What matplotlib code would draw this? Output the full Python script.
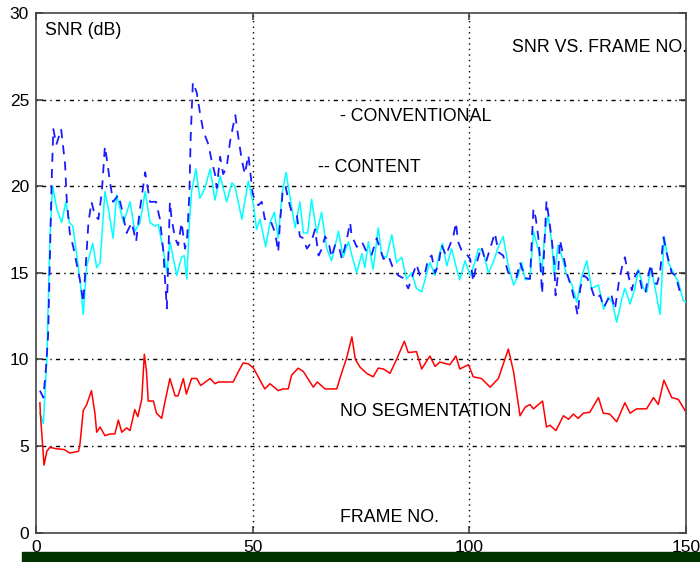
import numpy as np
import matplotlib
matplotlib.use("Agg")
import matplotlib.pyplot as plt
from matplotlib.patches import Rectangle

plt.rcParams['font.family'] = ['Liberation Sans', 'DejaVu Sans']

# (frame, SNR dB)
conventional = [
    (0.9, 6.9), (1.7, 6.3), (2.5, 10.0), (3.2, 17.0), (3.85, 20.0), (4.8, 18.7), (5.9, 17.9),
    (6.9, 19.1), (7.7, 17.9), (8.5, 17.7), (9.4, 16.0), (10.2, 14.5), (10.9, 12.6), (11.7, 15.4),
    (13.1, 16.7), (14.0, 15.3), (14.8, 15.6), (15.9, 19.7), (16.7, 18.7), (17.8, 17.0), (18.6, 19.5),
    (20.2, 17.9), (21.7, 19.1), (22.8, 17.4), (24.0, 17.9), (25.2, 19.7), (26.3, 17.9), (27.5, 17.7),
    (28.2, 17.8), (29.4, 16.3), (30.2, 15.0), (30.9, 16.8), (32.5, 14.85), (33.6, 15.9), (34.2, 16.0),
    (34.8, 14.65), (35.4, 17.9), (35.9, 19.7), (36.9, 21.0), (37.8, 19.3), (39.0, 19.9), (40.2, 21.0),
    (41.3, 19.2), (42.5, 20.6), (44.0, 19.1), (45.2, 20.2), (45.9, 20.0), (47.5, 18.1), (49.0, 20.3),
    (50.2, 18.9), (50.9, 17.5), (51.7, 18.1), (53.0, 16.5), (54.0, 17.9), (55.0, 18.5), (55.9, 17.0),
    (56.8, 19.6), (57.7, 20.8), (58.6, 19.4), (59.8, 17.6), (60.9, 19.1), (61.7, 17.3), (62.7, 17.3),
    (63.6, 19.25), (64.8, 17.3), (65.9, 18.5), (67.1, 16.4), (68.2, 15.7), (69.8, 17.4), (70.9, 15.9),
    (72.1, 16.8), (72.9, 16.0), (74.0, 15.0), (75.2, 16.1), (75.9, 15.3), (76.7, 16.8), (77.8, 15.2),
    (79.0, 17.6), (79.8, 16.0), (80.9, 15.9), (82.1, 17.2), (83.2, 15.6), (84.4, 15.9), (85.5, 14.65),
    (86.7, 15.0), (87.8, 14.1), (89.0, 13.9), (90.2, 15.0), (90.9, 15.6), (92.1, 14.85), (92.9, 15.9),
    (93.8, 16.7), (94.8, 15.4), (95.9, 16.4), (97.1, 15.2), (97.8, 14.6), (99.0, 15.7), (100.2, 14.85),
    (101.0, 15.4), (102.1, 16.4), (103.2, 16.2), (104.4, 15.0), (105.5, 15.6), (106.7, 16.5),
    (107.8, 17.1), (109.0, 15.4), (110.2, 14.3), (111.3, 14.85), (112.1, 15.6), (112.9, 14.6),
    (114.0, 14.65), (114.8, 17.4), (115.9, 16.4), (116.7, 15.0), (117.5, 17.5), (118.2, 18.3),
    (119.0, 16.8), (119.6, 14.85), (120.5, 16.6), (121.3, 16.0), (122.5, 14.85), (123.7, 14.3),
    (124.8, 13.3), (126.0, 14.85), (127.1, 15.7), (128.2, 14.1), (129.8, 14.3), (131.0, 12.9),
    (132.1, 13.6), (133.0, 13.3), (134.0, 12.15), (135.2, 13.5), (135.9, 14.1), (137.1, 13.2),
    (138.2, 14.1), (139.0, 15.2), (140.2, 14.1), (141.0, 13.9), (141.9, 15.3), (142.9, 14.1),
    (144.0, 12.6), (145.0, 17.1), (145.9, 15.6), (147.1, 15.0), (148.2, 14.5), (149.4, 13.4),
    (150.0, 13.3),
]

content = [
    (0.9, 8.2), (1.7, 7.8), (2.3, 9.5), (2.8, 11.4), (3.3, 17.0), (3.6, 20.2), (4.0, 23.3),
    (4.7, 22.4), (5.8, 23.3), (6.7, 21.3), (7.1, 19.2), (7.8, 17.3), (8.6, 16.5), (9.4, 15.5),
    (10.2, 14.5), (10.9, 13.3), (11.5, 15.5), (12.1, 17.9), (12.8, 19.1), (13.6, 18.3), (14.4, 18.1),
    (15.2, 19.7), (15.9, 22.3), (16.5, 21.3), (17.1, 20.2), (17.8, 19.1), (19.0, 19.5), (19.8, 18.7),
    (20.9, 17.3), (22.1, 17.9), (23.1, 16.8), (24.0, 18.7), (25.2, 20.8), (26.3, 19.1), (27.7, 19.1),
    (28.6, 18.1), (29.4, 16.2), (29.8, 14.5), (30.2, 12.95), (30.9, 19.1), (31.3, 18.1), (32.1, 17.0),
    (32.8, 16.6), (33.6, 17.9), (34.4, 16.4), (34.9, 17.1), (35.4, 19.6), (35.7, 22.9), (36.2, 26.0),
    (37.1, 25.4), (37.8, 24.3), (38.6, 23.2), (39.8, 22.4), (40.5, 21.5), (41.3, 20.7), (41.7, 19.9),
    (42.5, 21.7), (43.2, 20.7), (44.0, 21.1), (44.8, 22.6), (45.5, 23.5), (46.0, 24.1), (46.7, 22.8),
    (47.5, 21.5), (48.2, 20.7), (49.0, 21.8), (49.5, 20.7), (50.0, 19.6), (50.5, 19.2), (51.3, 18.9),
    (52.1, 19.1), (52.8, 18.1), (54.0, 18.1), (55.2, 17.3), (55.9, 16.2), (56.3, 17.9), (56.9, 19.6),
    (57.6, 20.0), (58.2, 19.25), (59.0, 18.5), (60.2, 18.3), (60.9, 17.1), (61.7, 17.0), (62.5, 16.4),
    (63.4, 16.7), (64.4, 17.5), (65.2, 16.0), (66.0, 16.4), (66.7, 17.1), (67.5, 16.8), (68.2, 15.9),
    (69.0, 16.6), (69.8, 16.6), (70.6, 15.8), (71.6, 16.8), (72.5, 17.9), (72.8, 17.2), (74.0, 16.5),
    (75.2, 16.8), (76.3, 16.2), (77.4, 16.0), (78.6, 17.0), (80.2, 15.8), (81.3, 16.0), (82.5, 15.2),
    (83.6, 14.85), (84.7, 14.7), (85.9, 14.1), (87.1, 15.0), (87.8, 15.5), (88.6, 14.85), (89.7, 14.9),
    (90.5, 15.8), (91.3, 16.0), (92.1, 15.0), (92.9, 15.5), (93.6, 16.6), (94.6, 16.0), (95.5, 16.6),
    (96.3, 17.1), (96.9, 17.9), (97.4, 16.8), (98.2, 16.3), (99.0, 16.2), (100.2, 15.8), (100.9, 14.5),
    (101.7, 15.6), (102.8, 16.5), (103.8, 15.6), (104.8, 16.4), (105.9, 17.3), (106.7, 16.2),
    (107.8, 16.0), (109.0, 15.0), (110.0, 14.9), (110.9, 14.75), (111.7, 15.6), (112.9, 14.7),
    (114.0, 14.65), (114.4, 16.8), (114.8, 18.7), (115.3, 18.2), (115.9, 17.1), (116.3, 15.9),
    (116.8, 13.8), (117.5, 17.5), (117.8, 19.15), (118.4, 18.1), (119.0, 16.95), (119.6, 15.6),
    (119.9, 13.7), (120.5, 15.0), (120.9, 16.9), (121.7, 16.0), (122.5, 15.0), (123.6, 14.1),
    (124.4, 13.3), (125.0, 12.55), (125.6, 14.1), (126.4, 14.85), (127.2, 14.7), (128.2, 14.1),
    (129.0, 13.5), (130.2, 13.7), (131.0, 13.0), (132.7, 13.8), (133.6, 12.9), (134.5, 14.45),
    (135.2, 15.3), (135.9, 15.9), (136.7, 14.85), (137.5, 14.0), (138.3, 14.85), (139.0, 15.1),
    (139.8, 14.1), (140.6, 13.8), (141.3, 14.85), (141.9, 15.5), (142.5, 14.45), (143.3, 14.35),
    (144.0, 15.0), (144.8, 17.05), (145.5, 16.2), (146.7, 15.0), (147.6, 14.85), (148.6, 13.9),
    (149.8, 13.8),
]

no_segmentation = [
    (0.9, 7.5), (1.0, 6.9), (1.85, 3.9), (2.5, 4.7), (3.2, 4.93), (4.6, 4.85), (6.5, 4.8), (7.8, 4.6),
    (9.8, 4.7), (10.1, 5.0), (10.9, 7.05), (11.7, 7.4), (12.8, 8.2), (13.6, 6.9), (14.0, 5.8),
    (14.8, 6.1), (15.9, 5.6), (17.1, 5.7), (18.2, 5.7), (19.0, 6.5), (19.8, 5.8), (20.9, 6.05),
    (21.7, 5.9), (22.8, 7.1), (23.5, 6.7), (24.4, 7.7), (25.0, 10.3), (25.5, 9.3), (25.9, 7.6),
    (27.1, 7.6), (27.8, 6.9), (29.0, 6.6), (29.8, 7.6), (30.9, 8.9), (32.1, 7.9), (32.8, 7.9),
    (34.0, 8.9), (34.7, 8.0), (35.9, 8.9), (37.1, 8.9), (38.0, 8.5), (40.2, 8.9), (41.3, 8.6),
    (42.1, 8.7), (43.2, 8.7), (45.5, 8.7), (46.7, 9.3), (47.8, 9.8), (49.0, 9.75), (50.2, 9.5),
    (51.7, 8.8), (52.8, 8.3), (54.0, 8.6), (55.9, 8.2), (57.0, 8.3), (58.2, 8.3), (59.0, 9.1),
    (60.5, 9.5), (61.7, 9.3), (64.0, 8.4), (64.9, 8.7), (66.7, 8.3), (69.4, 8.3), (70.5, 9.2),
    (71.7, 10.1), (72.9, 11.3), (73.7, 10.0), (74.8, 9.55), (76.3, 9.2), (77.8, 9.0), (79.0, 9.5),
    (80.2, 9.45), (81.7, 9.2), (83.2, 10.0), (85.0, 11.05), (85.9, 10.4), (87.8, 10.45), (89.0, 9.45),
    (90.9, 10.2), (92.1, 9.6), (93.2, 9.85), (95.5, 9.7), (96.9, 10.2), (97.8, 9.45), (99.8, 9.7),
    (100.9, 9.0), (102.8, 8.9), (104.8, 8.4), (106.7, 8.9), (109.0, 10.6), (110.2, 9.3),
    (111.7, 6.75), (112.9, 7.25), (114.0, 7.4), (114.8, 7.15), (116.9, 7.6), (117.8, 6.1),
    (118.6, 6.2), (120.0, 5.9), (121.7, 6.75), (122.9, 6.55), (124.0, 6.85), (125.1, 6.6),
    (126.3, 6.9), (127.8, 6.95), (129.8, 7.8), (130.9, 6.9), (132.4, 6.85), (134.0, 6.4),
    (135.9, 7.5), (137.1, 6.9), (138.6, 7.15), (140.9, 7.15), (142.5, 7.8), (143.6, 7.4),
    (144.9, 8.8), (146.7, 7.8), (148.2, 7.7), (149.8, 7.05),
]

xticks = [0, 50, 100, 150]
yticks = [0, 5, 10, 15, 20, 25, 30]

fig = plt.figure(figsize=(7.0, 5.62), dpi=100)
ax = fig.add_axes([36 / 700, (562 - 532.7) / 562, 650 / 700, (532.7 - 13) / 562])

x, y = zip(*conventional)
ax.plot(x, y, color='#00ffff', lw=1.1, zorder=3)
x, y = zip(*content)
ax.plot(x, y, color='#1a1aff', lw=1.3, ls=(0, (5, 4)), zorder=4)
x, y = zip(*no_segmentation)
ax.plot(x, y, color='#ff0000', lw=1.1, zorder=3)

ax.set_xlim(0, 150)
ax.set_ylim(0, 30)
ax.set_xticks(xticks)
ax.set_yticks(yticks)

# matlab style grid
for gx in xticks[1:-1]:
    ax.axvline(gx, color='black', lw=1.0, ls=(0, (1, 3)), zorder=1)
for gy in yticks[1:-1]:
    ax.axhline(gy, color='black', lw=1.0, ls=(0, (1, 3, 3, 3)), zorder=1)

ax.tick_params(direction='in', length=5, width=1.1, top=True, right=True,
               labelsize=12.5, pad=5, color='#333333')
for s in ax.spines.values():
    s.set_color('#444444')
    s.set_linewidth(1.2)

fs = 12.8
ax.text(2.1, 29.0, 'SNR (dB)', fontsize=fs, va='center', ha='left')
ax.text(109.8, 28.0, 'SNR VS. FRAME NO.', fontsize=fs, va='center', ha='left')
ax.text(70.2, 24.0, '- CONVENTIONAL', fontsize=fs, va='center', ha='left')
ax.text(65.1, 21.1, '-- CONTENT', fontsize=fs, va='center', ha='left')
ax.text(70.2, 7.0, 'NO SEGMENTATION', fontsize=fs, va='center', ha='left')
ax.text(70.2, 0.9, 'FRAME NO.', fontsize=fs, va='center', ha='left')

# dark green strip along the bottom, over the tick labels
fig.add_artist(Rectangle((22 / 700, 0), 1 - 22 / 700, (562 - 551.5) / 562,
                         transform=fig.transFigure, color='#003300', zorder=10))

fig.savefig('out.png', dpi=100)
